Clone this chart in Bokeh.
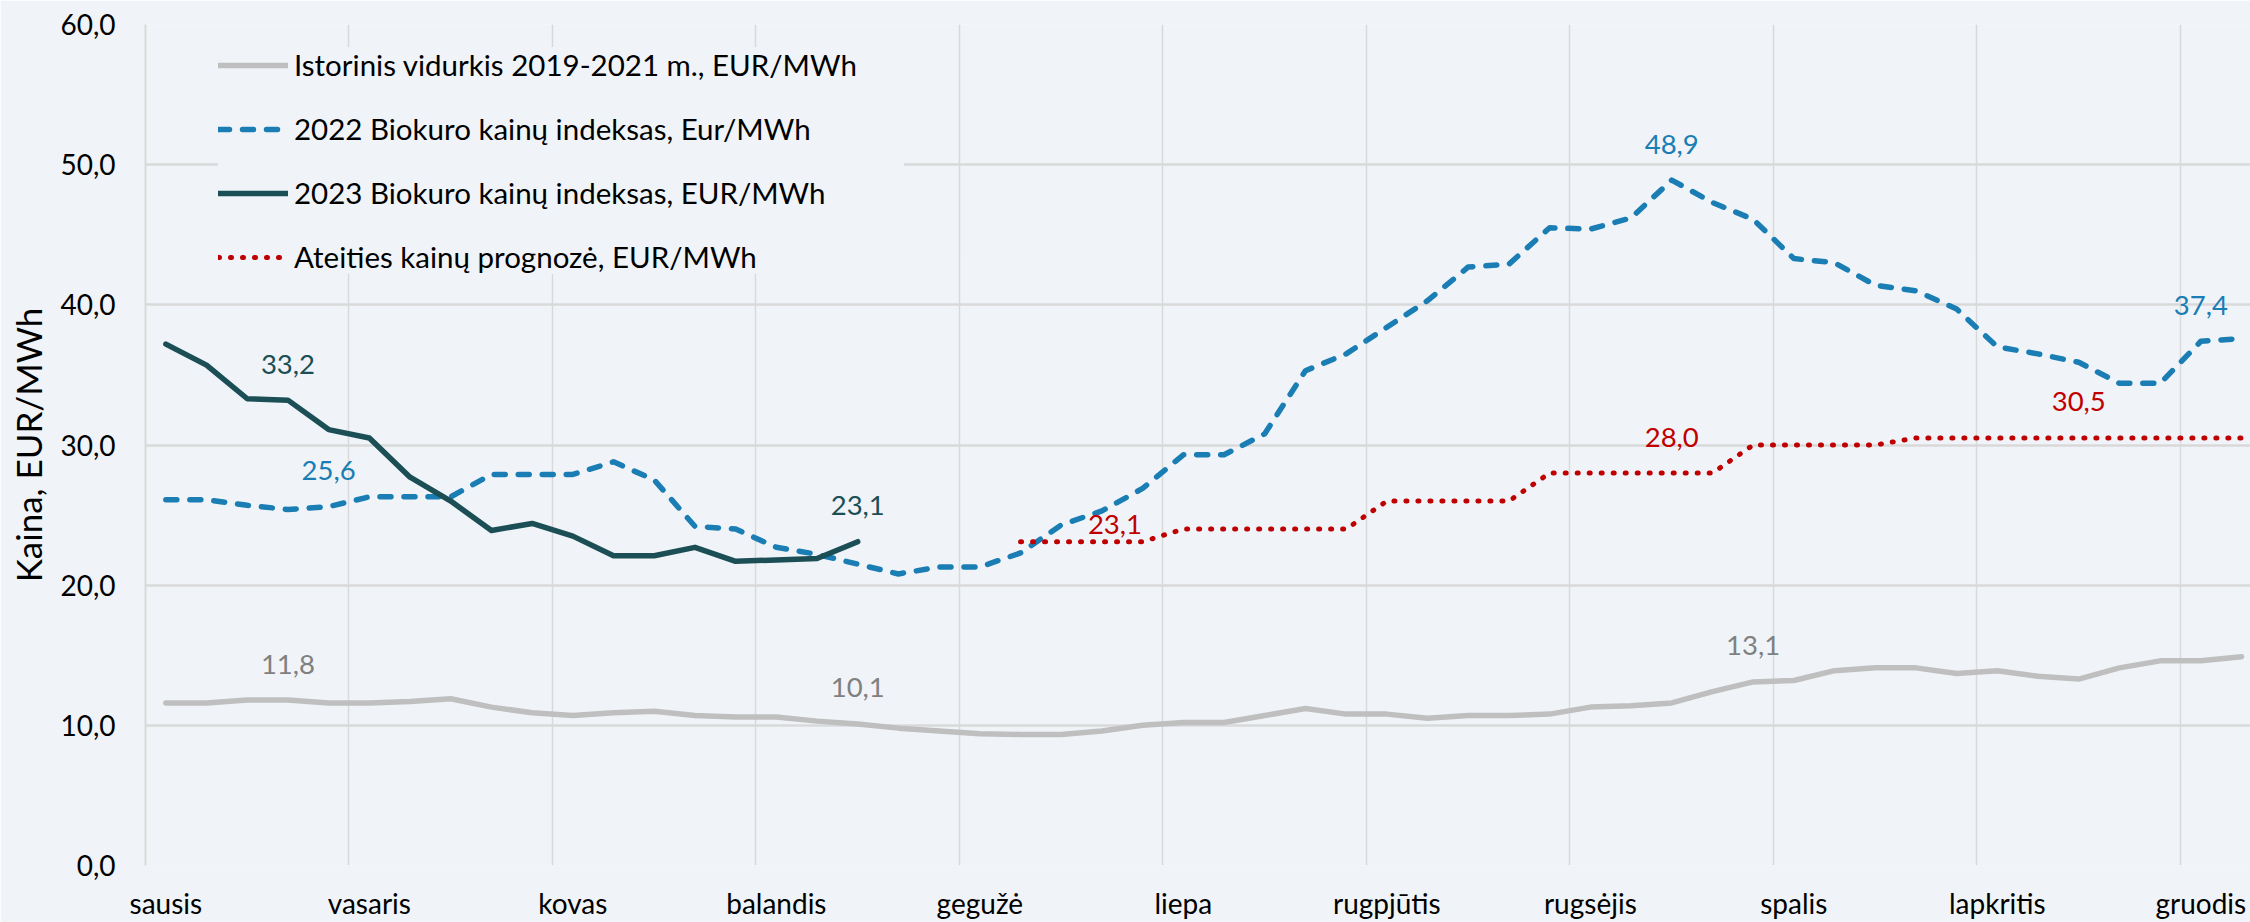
from bokeh.plotting import figure
from bokeh.models import ColumnDataSource, Range1d, FixedTicker, Legend, LegendItem, CustomJSTickFormatter
from bokeh.embed import file_html
from bokeh.resources import INLINE
from bokeh.core.properties import value

NAN = float("nan")

# ---------------- data ----------------
weeks = list(range(52))

month_names = ["sausis", "vasaris", "kovas", "balandis", "gegužė", "liepa",
               "rugpjūtis", "rugsėjis", "spalis", "lapkritis", "gruodis"]
month_weeks = [0, 5, 10, 15, 20, 25, 30, 35, 40, 45, 50]

hist_avg = [11.6, 11.6, 11.8, 11.8, 11.6, 11.6, 11.7, 11.9, 11.3, 10.9,
            10.7, 10.9, 11.0, 10.7, 10.6, 10.6, 10.3, 10.1, 9.8, 9.6,
            9.4, 9.35, 9.35, 9.6, 10.0, 10.2, 10.2, 10.7, 11.2, 10.8,
            10.8, 10.5, 10.7, 10.7, 10.8, 11.3, 11.4, 11.6, 12.4, 13.1,
            13.2, 13.9, 14.1, 14.1, 13.7, 13.9, 13.5, 13.3, 14.1, 14.6,
            14.6, 14.9]

bio_2022 = [26.1, 26.1, 25.7, 25.4, 25.6, 26.3, 26.3, 26.3, 27.9, 27.9,
            27.9, 28.8, 27.5, 24.2, 24.0, 22.7, 22.2, 21.5, 20.8, 21.3,
            21.3, 22.3, 24.3, 25.3, 26.9, 29.3, 29.3, 30.8, 35.3, 36.5,
            38.4, 40.3, 42.7, 42.9, 45.5, 45.4, 46.2, 48.9, 47.3, 46.1,
            43.3, 43.0, 41.4, 41.0, 39.7, 37.0, 36.5, 35.9, 34.4, 34.4,
            37.4, 37.6]

bio_2023 = [37.2, 35.7, 33.3, 33.2, 31.1, 30.5, 27.7, 26.0, 23.9, 24.4,
            23.5, 22.1, 22.1, 22.7, 21.7, 21.8, 21.9, 23.1] + [NAN] * 34

forecast = [NAN] * 21 + [23.1, 23.1, 23.1, 23.1,
                         24.0, 24.0, 24.0, 24.0, 24.0,
                         26.0, 26.0, 26.0, 26.0,
                         28.0, 28.0, 28.0, 28.0, 28.0,
                         30.0, 30.0, 30.0, 30.0,
                         30.5, 30.5, 30.5, 30.5, 30.5, 30.5, 30.5, 30.5, 30.5]

y_ticks = [0, 10, 20, 30, 40, 50, 60]

# weeks that carry a value label
hist_lbl_weeks = [3, 17, 39]
b2022_lbl_weeks = [4, 37, 50]
b2023_lbl_weeks = [3, 17]
fc_lbl_weeks = [23, 37, 47]

series_names = ["Istorinis vidurkis 2019-2021 m., EUR/MWh",
                "2022 Biokuro kainų indeksas, Eur/MWh",
                "2023 Biokuro kainų indeksas, EUR/MWh",
                "Ateities kainų prognozė, EUR/MWh"]

# ---------------- styles ----------------
BG = "#F0F4F8"
GRID = "#D9D9D9"
C_HIST = "#BFBFBF"
C_HIST_TXT = "#808080"
C_2022 = "#1A7DB4"
C_2023 = "#1B4F55"
C_FC = "#C00000"
FONT = "Lato"

p = figure(width=2250, height=922, output_backend="svg", toolbar_location=None,
           x_range=Range1d(-0.5, 51.22), y_range=Range1d(0, 60),
           min_border_left=145, min_border_right=0, min_border_top=24, min_border_bottom=57)
p.background_fill_color = BG
p.border_fill_color = BG
p.outline_line_color = None

src = ColumnDataSource(dict(x=weeks, hist=hist_avg, b22=bio_2022, b23=bio_2023, fc=forecast))

r_hist = p.line("x", "hist", source=src, line_color=C_HIST, line_width=5.5,
                line_cap="round", line_join="round")
r_22 = p.line("x", "b22", source=src, line_color=C_2022, line_width=5.5,
              line_dash="11 13", line_cap="round", line_join="round")
r_23 = p.line("x", "b23", source=src, line_color=C_2023, line_width=5.5,
              line_cap="round", line_join="round")
r_fc = p.line("x", "fc", source=src, line_color=C_FC, line_width=5,
              line_dash="1 11", line_cap="round", line_join="round")


def fmt(v):
    return f"{v:.1f}".replace(".", ",")


def add_labels(weeks_l, series, color, dx=None, dy=None):
    n = len(weeks_l)
    d = dict(x=weeks_l, y=[series[w] for w in weeks_l],
             t=[fmt(series[w]) for w in weeks_l],
             dx=dx if dx else [0] * n, dy=dy if dy else [-36] * n)
    p.text("x", "y", text="t", x_offset="dx", y_offset="dy", source=ColumnDataSource(d),
           text_font=value(FONT), text_font_size="27.5px", text_color=color,
           text_align="center", text_baseline="middle")


add_labels(hist_lbl_weeks, hist_avg, C_HIST_TXT)
add_labels(b2022_lbl_weeks, bio_2022, C_2022)
add_labels(b2023_lbl_weeks, bio_2023, C_2023)
add_labels(fc_lbl_weeks, forecast, C_FC, dx=[13, 0, 0], dy=[-17, -36, -36])

# axes
p.yaxis.ticker = FixedTicker(ticks=y_ticks)
p.yaxis.formatter = CustomJSTickFormatter(code="return tick.toFixed(1).replace('.', ',');")
p.xaxis.ticker = FixedTicker(ticks=month_weeks)
p.xaxis.major_label_overrides = {w: m for w, m in zip(month_weeks, month_names)}

for ax in (p.xaxis[0], p.yaxis[0]):
    ax.major_tick_line_color = None
    ax.minor_tick_line_color = None
    ax.major_tick_out = 0
    ax.major_tick_in = 0
    ax.minor_tick_out = 0
    ax.minor_tick_in = 0
    ax.major_label_text_font = FONT
    ax.major_label_text_font_size = "28px"
    ax.major_label_text_color = "#000000"
p.xaxis.axis_line_color = None
p.yaxis.axis_line_color = GRID
p.yaxis.axis_line_width = 2
p.yaxis.major_label_standoff = 30
p.xaxis.major_label_standoff = 20

p.yaxis.axis_label = "Kaina, EUR/MWh"
p.yaxis.axis_label_text_font = FONT
p.yaxis.axis_label_text_font_size = "35px"
p.yaxis.axis_label_text_font_style = "normal"
p.yaxis.axis_label_text_color = "#000000"
p.yaxis.axis_label_standoff = 8

p.ygrid.ticker = FixedTicker(ticks=y_ticks)
p.ygrid.grid_line_color = GRID
p.ygrid.grid_line_width = 2.5
p.xgrid.ticker = FixedTicker(ticks=[w - 0.5 for w in month_weeks[1:]])
p.xgrid.grid_line_color = GRID
p.xgrid.grid_line_width = 1.5

legend = Legend(items=[LegendItem(label=series_names[0], renderers=[r_hist]),
                       LegendItem(label=series_names[1], renderers=[r_22]),
                       LegendItem(label=series_names[2], renderers=[r_23]),
                       LegendItem(label=series_names[3], renderers=[r_fc])],
                location=(73, 591), margin=0, padding=17, spacing=29,
                glyph_width=70, glyph_height=30, label_height=30, label_width=610,
                label_standoff=6,
                label_text_font=FONT, label_text_font_size="29.5px", label_text_color="#000000",
                background_fill_color=BG, background_fill_alpha=1.0, border_line_color=None)
p.add_layout(legend)

open("out.html", "w").write(file_html(p, INLINE))
